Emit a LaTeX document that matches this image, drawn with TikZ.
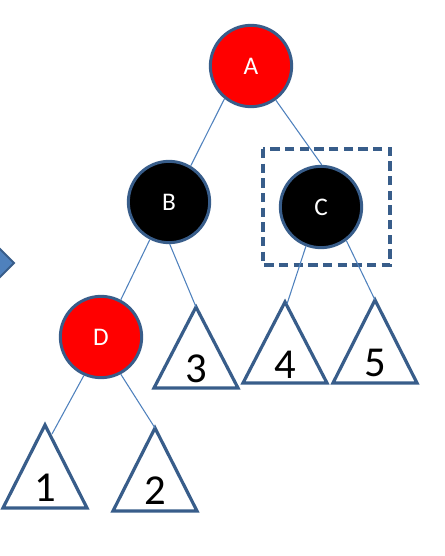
\documentclass[tikz,border=0pt]{standalone}
\usepackage{fontspec}
\setmainfont{Carlito}
\usetikzlibrary{calc}
\definecolor{rbred}{RGB}{255,0,0}
\definecolor{rbedge}{RGB}{79,129,189}
\definecolor{rbline}{RGB}{56,93,138}

\begin{document}
\begin{tikzpicture}[x=0.75pt, y=-0.75pt,
  rbnode/.style={circle, draw=rbline, line width=2.25pt, minimum size=61pt, inner sep=0pt, text=white, font=\fontsize{19}{19}\selectfont},
  subtree/.style={draw=rbline, line width=2.4pt, line join=miter},
  numlbl/.style={font=\fontsize{32}{32}\selectfont, inner sep=0pt},
  link/.style={draw=rbedge, line width=0.8pt}]
  \useasboundingbox (0,0) rectangle (444,556);

  % Arrow cut at the left edge
  \draw[fill=rbedge, draw=rbline, line width=1.5pt, line join=miter] (-10,239) -- (14,263) -- (-10,287) -- cycle;

  % Tree nodes
  \node[rbnode, fill=rbred] (A) at (251,66) {A};
  \node[rbnode, fill=black] (B) at (169,202) {B};
  \node[rbnode, fill=black] (C) at (321,207) {C};
  \node[rbnode, fill=rbred] (D) at (101,337) {D};

  % Dashed frame round C
  \draw[rbline, line width=2.4pt, dash pattern=on 7pt off 4pt] (263,149) rectangle (390,265);

  % Subtrees
  \coordinate (t1) at (45,425);
  \draw[subtree] (t1) -- ++(-42,83) -- ++(84,0) -- cycle;
  \node[numlbl] (n1) at ($(t1)+(0,63)$) {1};
  \coordinate (t2) at (155,428);
  \draw[subtree] (t2) -- ++(-42,83) -- ++(84,0) -- cycle;
  \node[numlbl] (n2) at ($(t2)+(0,63)$) {2};
  \coordinate (t3) at (196,307);
  \draw[subtree] (t3) -- ++(-42,81) -- ++(84,0) -- cycle;
  \node[numlbl] (n3) at ($(t3)+(0,62)$) {3};
  \coordinate (t4) at (285,302);
  \draw[subtree] (t4) -- ++(-42,81) -- ++(84,0) -- cycle;
  \node[numlbl] (n4) at ($(t4)+(0,63)$) {4};
  \coordinate (t5) at (375,300);
  \draw[subtree] (t5) -- ++(-42,83) -- ++(84,0) -- cycle;
  \node[numlbl] (n5) at ($(t5)+(0,63)$) {5};

  % Edges
  \coordinate (t1e) at (52,434);
  \coordinate (t4e) at (287,304);
  \draw[link] (A.-129) -- (B.59);
  \draw[link] (A.-54) -- (C.89);
  \draw[link] (B.-117) -- (D.62);
  \draw[link] (B.-89) -- (t3);
  \draw[link] (D.-114) -- (t1e);
  \draw[link] (D.-62) -- (t2);
  \draw[link] (C.-111) -- (t4e);
  \draw[link] (C.-53) -- (t5);
\end{tikzpicture}
\end{document}
